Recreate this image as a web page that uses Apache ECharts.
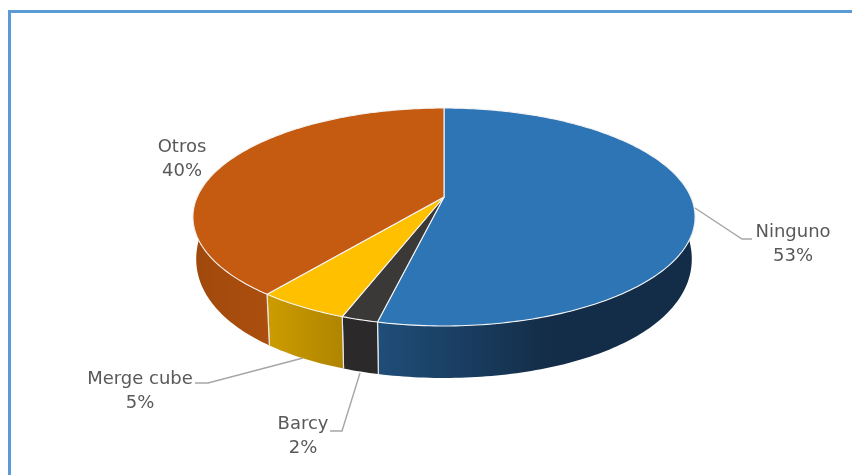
<!DOCTYPE html>
<html>
<head>
<meta charset="utf-8">
<style>html,body{margin:0;padding:0;background:#fff}#chart{width:852px;height:475px}</style>
<script src="https://cdn.jsdelivr.net/npm/echarts@6/dist/echarts.min.js"></script>
</head>
<body>
<div id="chart"></div>
<script>
// Chart data
const categories = ['Ninguno', 'Barcy', 'Merge cube', 'Otros'];
const shares = [53, 2, 5, 40];

// Slice colours: top face, wall gradient start and end
const topColors = ['#2e75b6', '#3b3838', '#ffc000', '#c55a11'];
const wallColors = [
  ['#1f4e79', '#132c47'],
  ['#2b2929', '#2b2929'],
  ['#cc9c00', '#b08500'],
  ['#a0480c', '#ab4f0e']
];

// Tilted disc projection (perspective on a circle seen from above)
const disc = { cx: 444, cy: 197, a: 246.8, b: 105.3, k: 0.1835, skew: 2.0, depth: 52, depthFalloff: 14, frontReach: 129, shrink: 0.987 };
const rad = Math.PI / 180;

function rim(deg) {
  const t = (deg + disc.skew * (1 - Math.cos(deg * rad)) / 2) * rad;
  const u = Math.sin(t), v = -Math.cos(t), d = 1 - disc.k * v;
  return [disc.cx + disc.a * u / d, disc.cy + disc.b * v / d];
}
// Wall depth eases off toward the sides of the disc, as it does under perspective
function lower(p) {
  const front = Math.max(0, (p[1] - disc.cy) / disc.frontReach);
  const depth = disc.depth - disc.depthFalloff * (1 - front) * (1 - front);
  return [disc.cx + (p[0] - disc.cx) * disc.shrink, p[1] + depth];
}
function arc(from, to) {
  const pts = [];
  const n = Math.max(2, Math.ceil(Math.abs(to - from)));
  for (let i = 0; i <= n; i++) pts.push(rim(from + (to - from) * i / n));
  return pts;
}

// Cumulative sweep of each slice, clockwise from twelve o'clock
const total = shares.reduce((s, v) => s + v, 0);
const starts = [];
shares.reduce((acc, v, i) => { starts[i] = acc; return acc + v; }, 0);
const sweep = i => [starts[i] / total * 360, (starts[i] + shares[i]) / total * 360];

// Visible part of the outer wall
const wallFrom = 80, wallTo = 285;

function renderWall(params, api) {
  const i = api.value(0);
  const [s, e] = sweep(i);
  const from = Math.max(s, wallFrom), to = Math.min(e, wallTo);
  if (from >= to) return;
  const upper = arc(from, to);
  const bottom = upper.map(lower).reverse();
  const xs = upper.map(p => p[0]);
  const x0 = Math.min(...xs), x1 = Math.max(...xs);
  const right = i === 0 ? x0 + (x1 - x0) * 0.55 : x1;
  const children = [{
    type: 'polygon',
    shape: { points: upper.concat(bottom) },
    style: {
      fill: new echarts.graphic.LinearGradient(x0, 0, right, 0, [
        { offset: 0, color: wallColors[i][0] },
        { offset: 1, color: wallColors[i][1] }
      ], true)
    }
  }];
  // Light seams where neighbouring walls meet
  [s, e].forEach(a => {
    if (a > wallFrom && a < wallTo) {
      const p = rim(a), q = lower(p);
      children.push({
        type: 'line',
        shape: { x1: p[0], y1: p[1], x2: q[0], y2: q[1] },
        style: { stroke: '#e8e8e8', lineWidth: 1.2 }
      });
    }
  });
  return { type: 'group', children };
}

function renderTop(params, api) {
  const i = api.value(0);
  const [s, e] = sweep(i);
  return {
    type: 'polygon',
    shape: { points: [[disc.cx, disc.cy]].concat(arc(s, e)) },
    style: { fill: topColors[i], stroke: '#f4f4f4', lineWidth: 1.1, lineJoin: 'round' }
  };
}

// Label placement: text centre, and leader line when the label has one
const labelLayout = {
  'Ninguno':    { x: 793, y: 232, leader: [[695, 208], [742, 239], [752, 239]] },
  'Barcy':      { x: 303, y: 424, leader: [[360, 373], [342, 431], [330, 431]] },
  'Merge cube': { x: 140, y: 379, leader: [[303, 358], [208, 383], [195, 383]] },
  'Otros':      { x: 182, y: 147, leader: null }
};
const lineGap = 24.5;

function renderLabel(params, api) {
  const i = api.value(0);
  const name = categories[i];
  const spot = labelLayout[name];
  const textStyle = t => ({
    text: t, fill: '#595959', font: '18px "DejaVu Sans", sans-serif',
    align: 'center', verticalAlign: 'middle'
  });
  const children = [
    { type: 'text', x: spot.x, y: spot.y, style: textStyle(name) },
    { type: 'text', x: spot.x, y: spot.y + lineGap, style: textStyle(shares[i] + '%') }
  ];
  if (spot.leader) {
    children.unshift({
      type: 'polyline',
      shape: { points: spot.leader },
      style: { stroke: '#a6a6a6', lineWidth: 1.4, fill: 'none' }
    });
  }
  return { type: 'group', children };
}

const rows = categories.map((c, i) => [i, shares[i]]);
const custom = (renderItem, z) => ({
  type: 'custom', coordinateSystem: 'none', renderItem, data: rows, z,
  silent: true, animation: false, clip: false
});

const chart = echarts.init(document.getElementById('chart'), null, { renderer: 'canvas' });
chart.setOption({
  backgroundColor: '#ffffff',
  animation: false,
  graphic: [{
    type: 'rect', silent: true, z: 0,
    shape: { x: 9.5, y: 11.5, width: 900, height: 520 },
    style: { fill: 'none', stroke: '#5b9bd5', lineWidth: 3 }
  }],
  series: [
    custom(renderWall, 2),
    custom(renderTop, 3),
    custom(renderLabel, 4)
  ]
});
</script>
</body>
</html>
